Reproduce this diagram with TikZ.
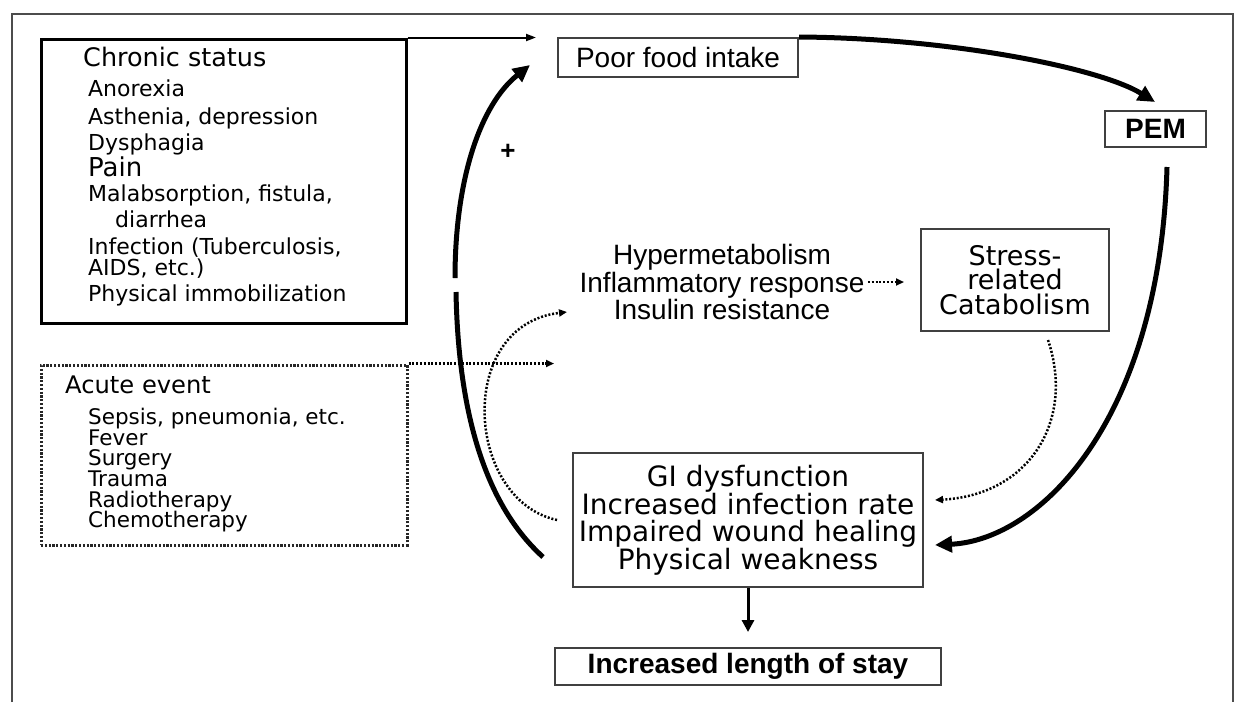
\documentclass[tikz,border=0pt]{standalone}
\usepackage{fontspec}
\setmainfont{Liberation Sans}
\newfontfamily\dejavu{DejaVu Sans}
\usetikzlibrary{arrows, arrows.meta, positioning}

\begin{document}
\begin{tikzpicture}[x=1pt, y=-1pt, on grid, node distance=20.6pt,
  plainbox/.style={draw=black!75, line width=2pt, inner sep=0pt, align=center},
  listhead/.style={font=\dejavu\fontsize{25.5}{30}\selectfont, inner sep=0pt, text height=18.4pt, text depth=0pt, anchor=west},
  listitem/.style={font=\dejavu\fontsize{22}{26}\selectfont, inner sep=0pt, text height=15.9pt, text depth=0pt, anchor=west},
  acuteitem/.style={listitem, font=\dejavu\fontsize{21.5}{24}\selectfont, text height=15.5pt},
  bigline/.style={line width=5pt},
  bigarrow/.style={bigline, ->, >={Triangle[length=17pt,width=16pt]}},
  thinarrow/.style={->, >={Triangle[length=10pt,width=7pt]}, line width=2pt},
  midarrow/.style={->, >={Triangle[length=12pt,width=12pt]}, line width=3pt},
  dotarrow/.style={->, >={Triangle[length=8pt,width=7pt]}, line width=2.5pt, dash pattern=on 2pt off 1.8pt}]
  \useasboundingbox (0,0) rectangle (1238,702);
  \draw[line width=2pt, black!70] (12,702) -- (12,14) -- (1233,14) -- (1233,702);

  % chronic status
  \node[plainbox, draw=black, line width=3pt, minimum width=365pt, minimum height=284pt] (chronic) at (223.5,181) {};
  \node[listhead] (chrhead) at (83,57) {Chronic status};
  \node[listitem] (chr1) at (88,89) {Anorexia};
  \node[listitem] (chr2) [below=28pt of chr1.west, anchor=west] {Asthenia, depression};
  \node[listitem] (chr3) [below=26pt of chr2.west, anchor=west] {Dysphagia};
  \node[listitem, font=\dejavu\fontsize{26}{30}\selectfont, text height=18.7pt] (chr4) [below=24pt of chr3.west, anchor=west] {Pain};
  \node[listitem] (chr5) [below=27pt of chr4.west, anchor=west] {Malabsorption, fistula,};
  \node[listitem] (chr6) [below=26pt of chr5.west, anchor=west, xshift=27pt] {diarrhea};
  \node[listitem] (chr7) [below=27pt of chr6.west, anchor=west, xshift=-27pt] {Infection (Tuberculosis,};
  \node[listitem] (chr8) [below=21pt of chr7.west, anchor=west] {AIDS, etc.)};
  \node[listitem] (chr9) [below=26pt of chr8.west, anchor=west] {Physical immobilization};

  % acute event
  \node[plainbox, draw=black!85, line width=3pt, dash pattern=on 2.2pt off 1.6pt, minimum width=366pt, minimum height=180pt] (acute) at (224,455) {};
  \node[listhead, font=\dejavu\fontsize{24.2}{28}\selectfont, text height=17.6pt] (acuhead) at (65,385) {Acute event};
  \node[acuteitem] (acu1) at (88,417) {Sepsis, pneumonia, etc.};
  \node[acuteitem] (acu2) [below=of acu1.west, anchor=west] {Fever};
  \node[acuteitem] (acu3) [below=of acu2.west, anchor=west] {Surgery};
  \node[acuteitem] (acu4) [below=of acu3.west, anchor=west] {Trauma};
  \node[acuteitem] (acu5) [below=of acu4.west, anchor=west] {Radiotherapy};
  \node[acuteitem] (acu6) [below=of acu5.west, anchor=west] {Chemotherapy};

  % cycle
  \node[plainbox, minimum width=240pt, minimum height=39pt, font=\fontsize{28}{30}\selectfont] (poor) at (678,57.5) {Poor food intake};
  \node[plainbox, minimum width=101pt, minimum height=36pt, font=\bfseries\fontsize{28}{30}\selectfont] (pem) at (1155.5,129) {PEM};
  \node[align=center, font=\fontsize{28}{23}\selectfont] (hyper) at (722,282) {Hypermetabolism\\Inflammatory response\\Insulin resistance};
  \node[plainbox, minimum width=188pt, minimum height=102pt, font=\dejavu\fontsize{27}{24.5}\selectfont] (stress) at (1015,280) {Stress-\\related\\Catabolism};
  \node[plainbox, minimum width=350pt, minimum height=134pt, font=\dejavu\fontsize{28}{26.7}\selectfont] (gi) at (748,520) {GI dysfunction\\Increased infection rate\\Impaired wound healing\\Physical weakness};
  \node[plainbox, minimum width=386pt, minimum height=37pt, font=\bfseries\fontsize{28}{30}\selectfont] (stay) [below=146.5pt of gi] {Increased length of stay};
  \node[font=\bfseries\fontsize{26}{28}\selectfont] (plus) at (508,152) {+};

  \coordinate (pemin) at (1155,102);
  \coordinate (pemout) at (1167,167);
  \coordinate (giin) at (935,545);
  \coordinate (stressout) at (1048,340);
  \coordinate (gidotin) at (935,500);
  \coordinate (giout) at (543,557);
  \coordinate (gapa) at (456,292);
  \coordinate (gapb) at (455,278);
  \coordinate (poorin) at (530,65);
  \coordinate (gidotout) at (557,520);
  \coordinate (hyperin) at (567,312);

  \draw[thinarrow, shorten >=21pt] (chronic.north east) -- (chronic.north east -| poor.west);
  \draw[dotarrow, shorten >=3pt] (acute.north east) -- (acute.north east -| poor.west);
  \draw[bigarrow] (poor.north east) .. controls (950,38) and (1100,68) .. (pemin);
  \draw[bigarrow] (pemout) .. controls (1160,420) and (1040,540) .. (giin);
  \draw[dotarrow] (stressout) .. controls (1075,420) and (1030,495) .. (gidotin);
  \draw[dotarrow, shorten >=16pt] (hyper.east) -- (hyper.east -| stress.west);
  \draw[midarrow, shorten >=15pt] (gi.south) -- (stay.north);
  \draw[bigline] (giout) .. controls (480,500) and (458,400) .. (gapa);
  \draw[bigarrow] (gapb) .. controls (455,180) and (480,105) .. (poorin);
  \draw[dotarrow] (gidotout) .. controls (465,500) and (455,325) .. (hyperin);
\end{tikzpicture}
\end{document}
